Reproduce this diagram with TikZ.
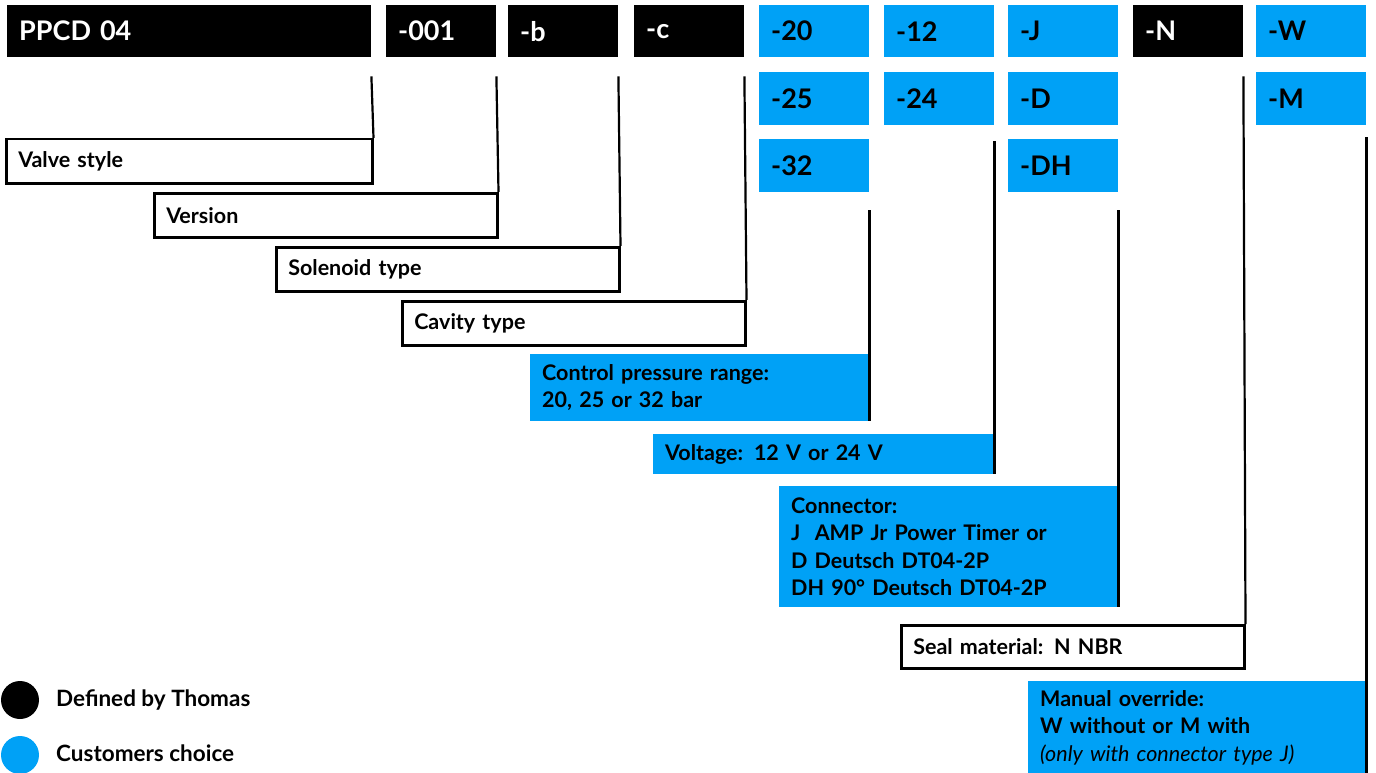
\documentclass[tikz,border=0pt]{standalone}
\usepackage{fontspec}
\setmainfont{Lato}
\definecolor{cblue}{RGB}{0,161,246}
\begin{document}
\begin{tikzpicture}[x=1pt,y=-1pt,
  base/.style={rectangle,anchor=north west,inner xsep=12pt,inner ysep=0pt,align=left,
    font=\fontsize{21.5}{27.5}\selectfont\bfseries},
  topblk/.style={base,fill=black,text=white,minimum height=52pt,text width=86pt,
    font=\fontsize{27}{30}\selectfont\bfseries},
  topblu/.style={topblk,fill=cblue,text=black},
  outl/.style={base,draw=black,line width=2.5pt,fill=white},
  blul/.style={base,fill=cblue,text=black},
  conn/.style={draw=black,line width=2.2pt},
  dot/.style={circle,minimum size=38pt,inner sep=0pt},
  legtext/.style={anchor=west,inner sep=0pt,font=\fontsize{22.5}{25}\selectfont\bfseries}]
\useasboundingbox (0,0) rectangle (1376,773);
% top row
\node[topblk,text width=340pt] (ppcd) at (7,5) {PPCD 04};
\node[topblk] (v001) at (386,5) {-001};
\node[topblk] (vb) at (508,5) {-b};
\node[topblk] (vc) at (634,5) {-c};
\node[topblu] (c20) at (759,5) {-20};
\node[topblu] (c12) at (884,5) {-12};
\node[topblu] (cJ) at (1008,5) {-J};
\node[topblk] (cN) at (1133,5) {-N};
\node[topblu] (cW) at (1256,5) {-W};
% row 2
\node[topblu,minimum height=53pt] (c25) at (759,72) {-25};
\node[topblu,minimum height=53pt] (c24) at (884,72) {-24};
\node[topblu,minimum height=53pt] (cD) at (1008,72) {-D};
\node[topblu,minimum height=53pt] (cM) at (1256,72) {-M};
% row 3
\node[topblu,minimum height=53pt] (c32) at (759,139) {-32};
\node[topblu,minimum height=53pt] (cDH) at (1008,139) {-DH};
% labels
\node[outl,text width=342pt,minimum height=44pt] (valve) at (5,138) {Valve style};
\node[outl,text width=319pt,minimum height=44pt] (version) at (153,192) {Version};
\node[outl,text width=319pt,minimum height=44pt] (solenoid) at (275,246) {Solenoid type};
\node[outl,text width=319pt,minimum height=44pt] (cavity) at (401,300) {Cavity type};
\node[blul,text width=315pt,minimum height=67pt] (ctrl) at (530,354) {Control pressure range:\\20, 25 or 32 bar};
\node[blul,text width=317pt,minimum height=40pt] (volt) at (653,434) {Voltage: 12 V or 24 V};
\node[blul,text width=315pt,minimum height=121pt] (connector) at (779,486) {Connector:\\J\ \ AMP Jr Power Timer or\\D Deutsch DT04-2P\\DH 90° Deutsch DT04-2P};
\node[outl,text width=319pt,minimum height=43pt] (seal) at (900,624) {Seal material: N NBR};
\node[blul,text width=314pt,minimum height=93pt] (manual) at (1028,681) {Manual override:\\W without or M with\\{\mdseries\itshape (only with connector type J)}};
% connectors
\draw[conn] ([yshift=-19pt]ppcd.south east) -- (valve.north east);
\draw[conn] ([yshift=-19pt]v001.south east) -- (version.north east);
\draw[conn] ([yshift=-19pt]vb.south east) -- (solenoid.north east);
\draw[conn] ([yshift=-19pt]vc.south east) -- (cavity.north east);
\draw[conn] ([yshift=-18pt]c32.south east) -- (ctrl.south east);
\draw[conn] ([yshift=-16pt]c24.south east) -- (volt.south east);
\draw[conn] ([yshift=-18pt]cDH.south east) -- (connector.south east);
\draw[conn] ([yshift=-19pt]cN.south east) -- (seal.north east);
\draw[conn] ([yshift=-12pt]cM.south east) -- (manual.south east);
% legend
\node[dot,fill=black] (legA) at (20,700) {};
\node[legtext] (legAt) at (56,700) {Defined by Thomas};
\node[dot,fill=cblue] (legB) at (20,755) {};
\node[legtext] (legBt) at (56,753) {Customers choice};
\end{tikzpicture}
\end{document}
